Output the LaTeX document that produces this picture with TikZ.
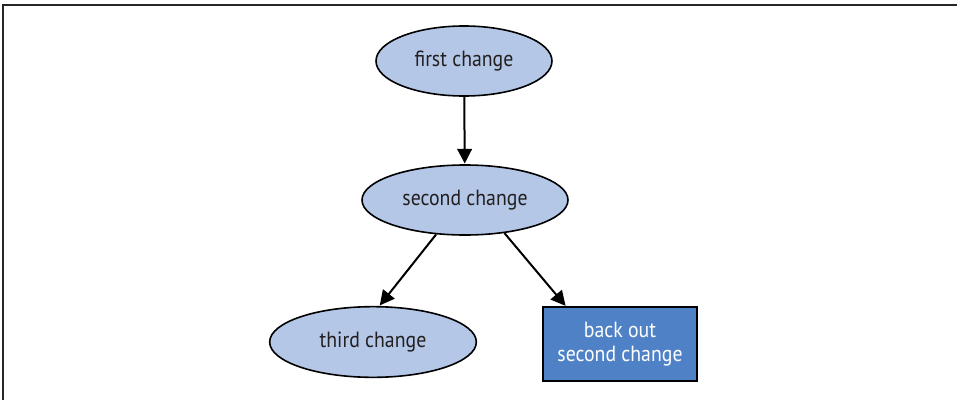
\documentclass[tikz,border=0pt]{standalone}
\usepackage{fontspec}
\setmainfont[FakeStretch=0.9]{PT Sans}
\usetikzlibrary{shapes,arrows,arrows.meta}
\definecolor{changefill}{RGB}{180,199,231}
\definecolor{backfill}{RGB}{79,129,199}
\definecolor{inktext}{RGB}{35,31,32}
\tikzstyle{change} = [draw, ellipse, fill=changefill, text=inktext, line width=1.2pt, inner sep=0pt]
\tikzstyle{backout} = [draw, rectangle, fill=backfill, text=white, line width=1.5pt, align=center]
\tikzset{
  line/.style ={draw, line width=1.5pt, -{Triangle[length=11pt,width=11pt]}, shorten >=0.5pt}
}

\begin{document}
\begin{tikzpicture}[x=0.75pt,y=-0.75pt,font=\fontsize{16.5}{18}\selectfont]
\useasboundingbox (0,0) rectangle (957,400);
\draw[line width=1.5pt,black!85] (3,400) -- (3,5) -- (957,5);
\node[change, minimum width=132pt, minimum height=52.5pt] (first) at (464,61) {first change};
\node[change, minimum width=154.5pt, minimum height=52.5pt] (second) at (465,200) {second change};
\node[change, minimum width=155pt, minimum height=53pt] (third) at (373,342) {third change};
\node[backout, minimum width=115.5pt, minimum height=55pt] (undo) at (620,344) {back out\\second change};
\path[line] (first) -- (second);
\path[line] (second.230) -- (third.80);
\path[line] (second.320) -- ([xshift=18pt]undo.north west);
\end{tikzpicture}
\end{document}
